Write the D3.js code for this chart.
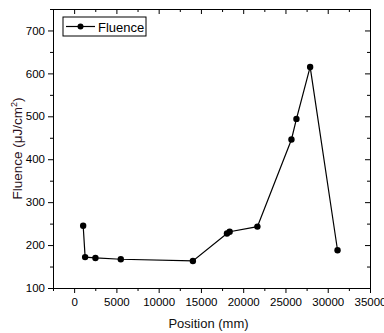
<!DOCTYPE html>
<html>
<head>
<meta charset="utf-8">
<script src="https://cdn.jsdelivr.net/npm/d3@7"></script>
<style>
  body { margin: 0; background: #fff; }
  svg { font-family: Arial, 'Liberation Sans', sans-serif; }
</style>
</head>
<body>
<div id="chart"></div>
<script>
const positions = [1070, 1300, 2520, 5520, 14050, 18080, 18400, 21680, 25710, 26300, 27920, 31160];
const fluence = [245, 172, 170, 167, 163, 227, 231, 243, 446, 494, 615, 188];
const xTicks = [0, 5000, 10000, 15000, 20000, 25000, 30000, 35000];
const yTicks = [100, 200, 300, 400, 500, 600, 700];

const width = 384, height = 333;
const margin = { top: 9, right: 14, bottom: 45, left: 53 };
const graphWidth = width - margin.left - margin.right;
const graphHeight = height - margin.top - margin.bottom;

const data = positions.map((p, i) => ({ x: p, y: fluence[i] }));

const svg = d3.select('#chart').append('svg').attr('width', width).attr('height', height);
const graph = svg.append('g').attr('transform', `translate(${margin.left}, ${margin.top})`);

const xScale = d3.scaleLinear().domain([-2500, 35000]).range([0, graphWidth]);
const yScale = d3.scaleLinear().domain([100, 750]).range([graphHeight, 0]);

const xMinor = d3.range(-2500, 35001, 2500).filter((v) => v % 5000 !== 0);
const yMinor = d3.range(150, 751, 100);

function styleAxis(g) {
    g.select('.domain').attr('stroke', '#000').attr('stroke-width', 1);
    g.selectAll('.tick line').attr('stroke', '#000');
    g.selectAll('text').attr('fill', '#000').style('font-size', '11.5px');
}

// bottom
graph.append('g').attr('transform', `translate(0, ${graphHeight})`)
    .call(d3.axisBottom(xScale).tickValues(xTicks).tickFormat(d3.format('d')).tickSize(5).tickSizeOuter(0).tickPadding(5))
    .call(styleAxis);
graph.append('g').attr('transform', `translate(0, ${graphHeight})`)
    .call(d3.axisBottom(xScale).tickValues(xMinor).tickSize(3).tickFormat('').tickSizeOuter(0))
    .call(styleAxis);
// left
graph.append('g')
    .call(d3.axisLeft(yScale).tickValues(yTicks).tickSize(5).tickSizeOuter(0).tickPadding(3))
    .call(styleAxis);
graph.append('g')
    .call(d3.axisLeft(yScale).tickValues(yMinor).tickSize(3).tickFormat('').tickSizeOuter(0))
    .call(styleAxis);
// top, ticks inward
graph.append('g')
    .call(d3.axisTop(xScale).tickValues(xTicks).tickSize(-5).tickFormat('').tickSizeOuter(0))
    .call(styleAxis);
graph.append('g')
    .call(d3.axisTop(xScale).tickValues(xMinor).tickSize(-3).tickFormat('').tickSizeOuter(0))
    .call(styleAxis);
// right, ticks inward
graph.append('g').attr('transform', `translate(${graphWidth}, 0)`)
    .call(d3.axisRight(yScale).tickValues(yTicks).tickSize(-5).tickFormat('').tickSizeOuter(0))
    .call(styleAxis);
graph.append('g').attr('transform', `translate(${graphWidth}, 0)`)
    .call(d3.axisRight(yScale).tickValues(yMinor).tickSize(-3).tickFormat('').tickSizeOuter(0))
    .call(styleAxis);

const line = d3.line().x((d) => xScale(d.x)).y((d) => yScale(d.y));

graph.append('path')
    .datum(data)
    .attr('fill', 'none')
    .attr('stroke', '#000')
    .attr('stroke-width', 1.2)
    .attr('d', line);

graph.append('g')
    .selectAll('circle')
    .data(data)
    .enter()
    .append('circle')
    .attr('cx', (d) => xScale(d.x))
    .attr('cy', (d) => yScale(d.y))
    .attr('r', 3.2)
    .attr('fill', '#000');

// legend
const legend = svg.append('g').attr('transform', 'translate(63, 17)');
legend.append('rect').attr('width', 83).attr('height', 19)
    .attr('fill', '#fff').attr('stroke', '#000').attr('stroke-width', 1);
legend.append('line').attr('x1', 3).attr('x2', 32).attr('y1', 9.5).attr('y2', 9.5)
    .attr('stroke', '#000').attr('stroke-width', 1.2);
legend.append('circle').attr('cx', 17.5).attr('cy', 9.5).attr('r', 3).attr('fill', '#000');
legend.append('text').attr('x', 35).attr('y', 14.5).style('font-size', '13px').text('Fluence');

// axis titles
svg.append('text')
    .attr('x', margin.left + graphWidth / 2 - 3)
    .attr('y', 328)
    .attr('text-anchor', 'middle')
    .style('font-size', '13px')
    .attr('fill', '#111')
    .text('Position (mm)');

const yLabel = svg.append('text')
    .attr('transform', `translate(22, ${margin.top + graphHeight / 2}) rotate(-90)`)
    .attr('text-anchor', 'middle')
    .style('font-size', '13.5px')
    .attr('fill', '#2a1020');
yLabel.append('tspan').text('Fluence (μJ/cm');
yLabel.append('tspan').attr('dy', -5).style('font-size', '9px').text('2');
yLabel.append('tspan').attr('dy', 5).text(')');
</script>
</body>
</html>
